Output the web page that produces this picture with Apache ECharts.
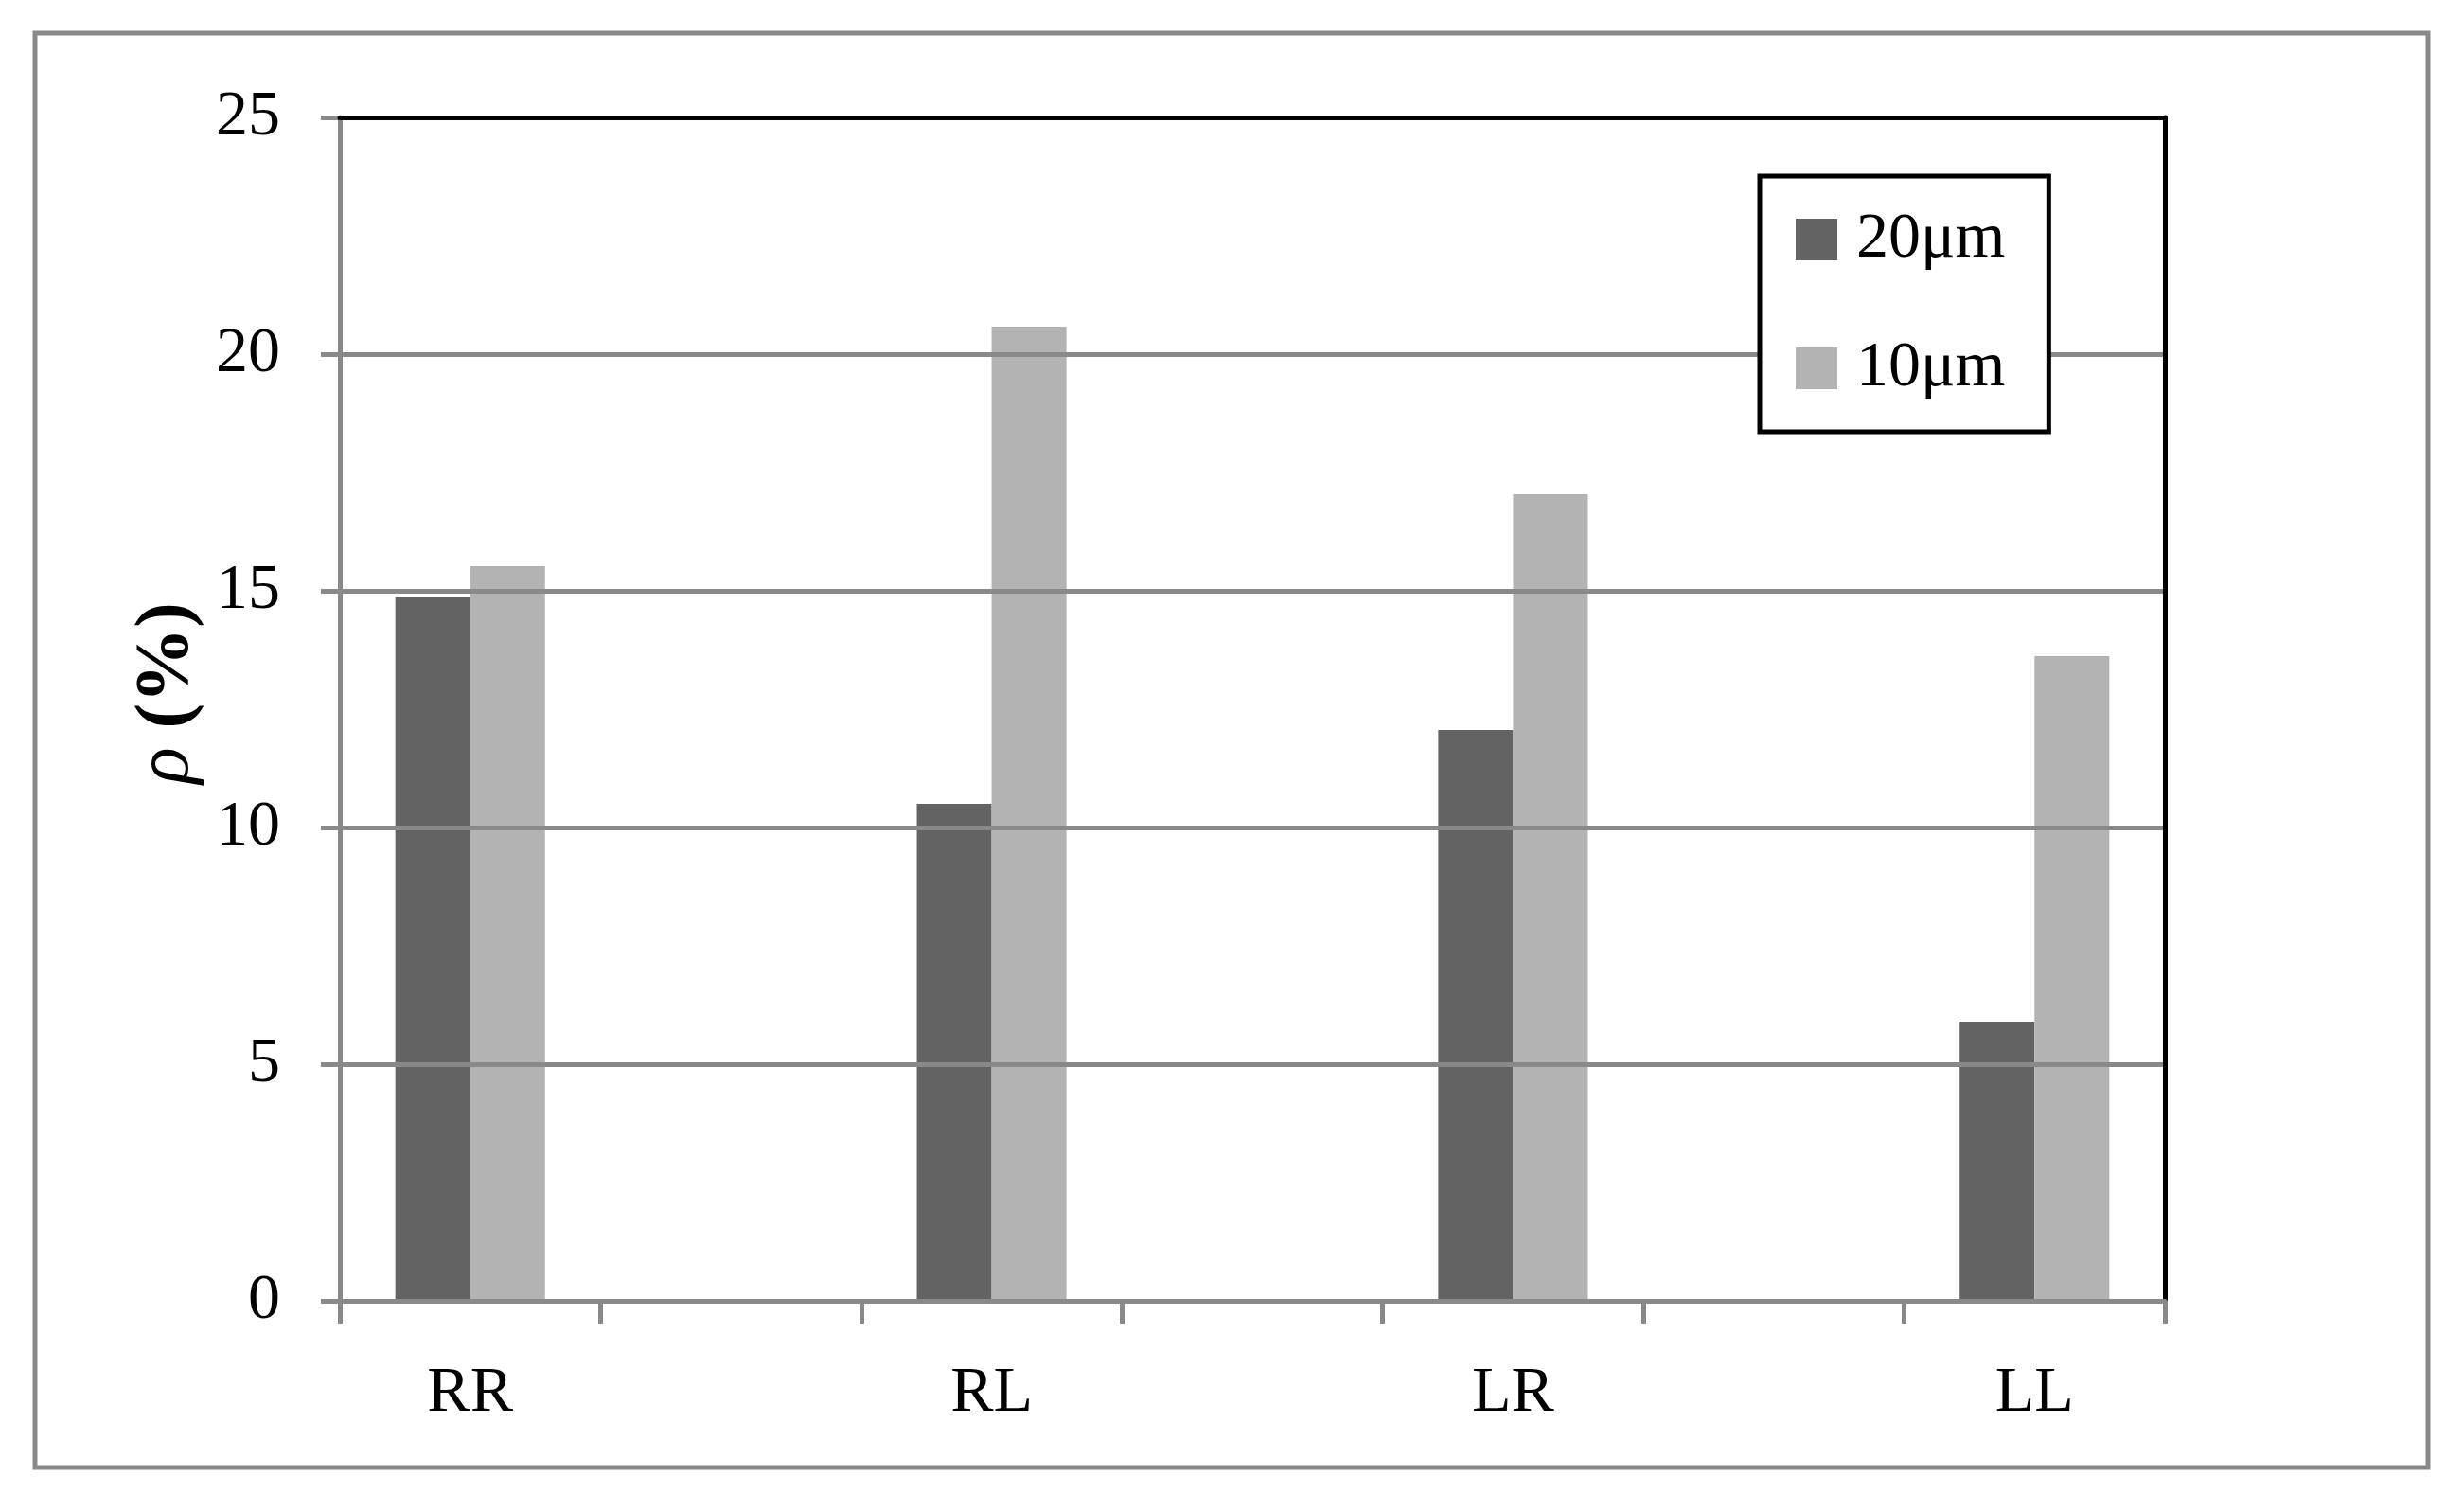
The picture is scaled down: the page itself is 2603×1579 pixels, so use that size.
<!DOCTYPE html>
<html>
<head>
<meta charset="utf-8">
<title>rho by orientation</title>
<script src="https://cdn.jsdelivr.net/npm/echarts@6/dist/echarts.min.js"></script>
<style>
  html, body { margin: 0; padding: 0; background: #fff; }
  #chart { width: 2603px; height: 1579px; }
</style>
</head>
<body>
<div id="chart"></div>
<script>
// categories (blank slots are the empty gaps between groups)
const categories = ['RR', '', 'RL', '', 'LR', '', 'LL']
const series20um = [14.86, null, 10.5, null, 12.06, null, 5.9]
const series10um = [15.52, null, 20.58, null, 17.04, null, 13.62]
const yTicks = [0, 5, 10, 15, 20, 25]

const gray = '#898989'
const font = 'Liberation Serif, Times New Roman, Times, Tinos, serif'

let myChart = echarts.init(document.getElementById('chart'))
let option = {
  backgroundColor: '#fff',
  animation: false,
  textStyle: { fontFamily: font, color: '#000' },
  graphic: [
    {
      type: 'rect',
      shape: { x: 37, y: 35, width: 2528, height: 1515 },
      style: { fill: 'none', stroke: gray, lineWidth: 5 },
      z: -1
    }
  ],
  grid: { left: 359, top: 124, right: 316, bottom: 205 },
  legend: {
    orient: 'vertical',
    left: 1859,
    top: 186,
    itemWidth: 44,
    itemHeight: 44,
    itemGap: 68,
    padding: [33, 46, 33, 38],
    borderColor: '#000',
    borderWidth: 5,
    backgroundColor: '#fff',
    icon: 'rect',
    textStyle: { fontFamily: font, fontSize: 68, color: '#000', width: 177, padding: [0, 0, 0, 15] },
    data: ['20μm', '10μm']
  },
  xAxis: [
    {
      type: 'category',
      data: categories,
      axisLine: { lineStyle: { color: gray, width: 5 } },
      axisTick: { show: true, interval: 0, length: 24, lineStyle: { color: gray, width: 5 } },
      axisLabel: { interval: 0, margin: 64, fontSize: 68, color: '#000', fontFamily: font },
      z: 5
    },
    {
      type: 'category',
      position: 'top',
      data: categories,
      axisLine: { onZero: false, lineStyle: { color: '#000', width: 5 } },
      axisTick: { show: false },
      axisLabel: { show: false },
      z: 6
    }
  ],
  yAxis: [
    {
      type: 'value',
      min: 0,
      max: 25,
      interval: 5,
      name: '{i|ρ} (%)',
      nameLocation: 'middle',
      nameGap: 140,
      nameRotate: 90,
      nameTextStyle: {
        fontSize: 80,
        fontWeight: 'bold',
        fontFamily: font,
        color: '#000',
        padding: [0, 0, 0, 34],
        rich: {
          i: { fontSize: 80, fontStyle: 'italic', fontWeight: 'normal', fontFamily: font, color: '#000' }
        }
      },
      axisLine: { show: true, lineStyle: { color: gray, width: 5 } },
      axisTick: { show: true, length: 20, lineStyle: { color: gray, width: 5 } },
      axisLabel: {
        margin: 63,
        fontSize: 68,
        color: '#000',
        fontFamily: font,
        formatter: v => (yTicks.indexOf(v) >= 0 ? String(v) : '')
      },
      splitLine: { show: true, lineStyle: { color: gray, width: 5 } },
      z: 3
    },
    {
      type: 'value',
      position: 'right',
      min: 0,
      max: 25,
      interval: 5,
      axisLine: { show: true, onZero: false, lineStyle: { color: '#000', width: 5 } },
      axisTick: { show: false },
      axisLabel: { show: false },
      splitLine: { show: false },
      z: 4
    }
  ],
  series: [
    {
      name: '20μm',
      type: 'bar',
      data: series20um,
      barWidth: '28.7%',
      barGap: '0%',
      itemStyle: { color: '#636363' },
      z: 2
    },
    {
      name: '10μm',
      type: 'bar',
      data: series10um,
      barWidth: '28.7%',
      barGap: '0%',
      itemStyle: { color: '#b3b3b3' },
      z: 2
    }
  ]
}
myChart.setOption(option)
</script>
</body>
</html>
